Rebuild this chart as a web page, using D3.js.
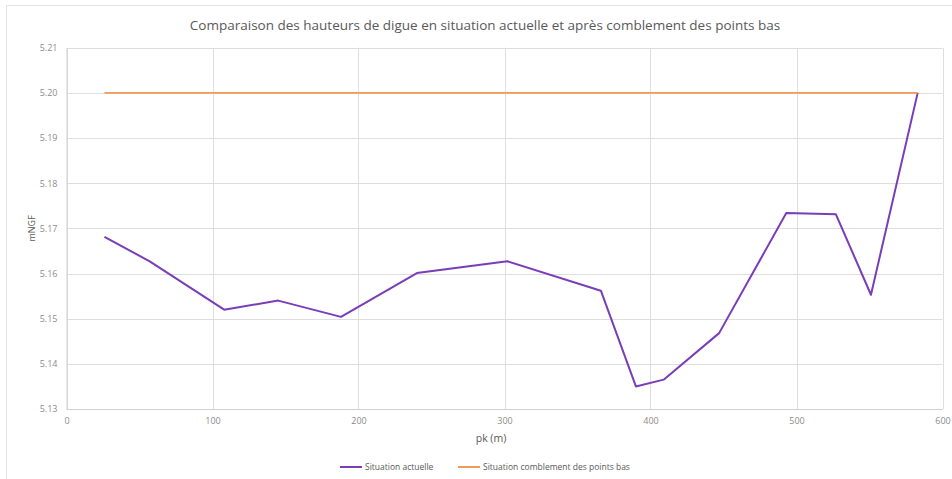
<!DOCTYPE html>
<html>
<head>
<meta charset="utf-8">
<script src="https://cdn.jsdelivr.net/npm/d3@7"></script>
<style>
  body { margin: 0; background: #fff; }
  text { font-family: "Open Sans", sans-serif; fill: #595959; }
</style>
</head>
<body>
<script>
(function (d3) {
	'use strict';

	var width = 952,
	    height = 479;

	// pk (m) and heights (mNGF)
	var pkActuel = [26, 57, 108, 145, 188, 240, 302, 366, 390, 409, 447, 493, 527, 551, 583];
	var hActuel = [5.1681, 5.1627, 5.1520, 5.1540, 5.1504, 5.1601, 5.1627, 5.1562, 5.1350, 5.1365, 5.1468, 5.1734, 5.1731, 5.1553, 5.2000];
	var pkComble = [26, 583];
	var hComble = [5.200, 5.200];
	var xTicks = [0, 100, 200, 300, 400, 500, 600];
	var yTicks = [5.13, 5.14, 5.15, 5.16, 5.17, 5.18, 5.19, 5.20, 5.21];
	var seriesNames = ['Situation actuelle', 'Situation comblement des points bas'];
	var colors = ['#7a3db8', '#f0995a'];

	var margin = {top: 47.7, right: 9.5, bottom: 70, left: 66.5};

	var svg = d3.select('body')
			.append('svg')
			.attr('width', width)
			.attr('height', height);

	// frame
	svg.append('rect')
		.attr('x', 6.5).attr('y', 5.5)
		.attr('width', width - 4).attr('height', height - 2)
		.style('fill', 'none')
		.style('stroke', '#e3e3e3');

	var x = d3.scaleLinear()
		.domain([0, 600])
		.range([margin.left, width - margin.right]);

	var y = d3.scaleLinear()
		.domain([5.13, 5.21])
		.range([409, margin.top]);

	// grid
	svg.append('g')
		.selectAll('line.h')
		.data(yTicks)
		.enter()
		.append('line')
			.attr('x1', x(0)).attr('x2', x(600))
			.attr('y1', function (d) { return Math.round(y(d)) + 0.5; })
			.attr('y2', function (d) { return Math.round(y(d)) + 0.5; })
			.style('stroke', '#dedede');

	svg.append('g')
		.selectAll('line.v')
		.data(xTicks)
		.enter()
		.append('line')
			.attr('y1', y(5.13)).attr('y2', y(5.21))
			.attr('x1', function (d) { return Math.round(x(d)) + 0.5; })
			.attr('x2', function (d) { return Math.round(x(d)) + 0.5; })
			.style('stroke', '#dedede');

	// axes
	var xAxis = d3.axisBottom(x).tickValues(xTicks).tickSize(0).tickPadding(9);
	var yAxis = d3.axisLeft(y).tickValues(yTicks).tickSize(0).tickPadding(9)
		.tickFormat(d3.format('.2f'));

	var gx = svg.append('g')
		.attr('transform', 'translate(0,' + y(5.13) + ')')
		.call(xAxis);
	var gy = svg.append('g')
		.attr('transform', 'translate(' + x(0) + ',0)')
		.call(yAxis);

	[gx, gy].forEach(function (g) {
		g.select('.domain').style('stroke', '#d0d0d0');
		g.selectAll('text')
			.style('font-size', '9px')
			.style('fill', '#8c8c8c')
			.style('font-family', '"Open Sans", sans-serif');
	});

	// series
	var line = d3.line()
		.x(function (d) { return x(d[0]); })
		.y(function (d) { return y(d[1]); });

	var series = [
		d3.zip(pkActuel, hActuel),
		d3.zip(pkComble, hComble)
	];

	svg.selectAll('path.serie')
		.data(series)
		.enter()
		.append('path')
			.attr('class', 'serie')
			.attr('d', line)
			.style('fill', 'none')
			.style('stroke', function (d, i) { return colors[i]; })
			.style('stroke-width', function (d, i) { return i === 0 ? 2 : 1.6; })
			.style('stroke-linejoin', 'round');

	// title
	svg.append('text')
		.attr('x', 485)
		.attr('y', 30)
		.attr('text-anchor', 'middle')
		.style('font-size', '13.5px')
		.text('Comparaison des hauteurs de digue en situation actuelle et après comblement des points bas');

	// axis titles
	svg.append('text')
		.attr('transform', 'translate(35,' + y(5.17) + ') rotate(-90)')
		.attr('text-anchor', 'middle')
		.style('font-size', '9px')
		.text('mNGF');

	svg.append('text')
		.attr('x', 491)
		.attr('y', 442)
		.attr('text-anchor', 'middle')
		.style('font-size', '10.5px')
		.text('pk (m)');

	// legend
	var legendX = [340, 458];
	var leg = svg.selectAll('g.leg')
		.data(seriesNames)
		.enter()
		.append('g')
			.attr('class', 'leg')
			.attr('transform', function (d, i) { return 'translate(' + legendX[i] + ',467)'; });

	leg.append('line')
		.attr('x1', 0).attr('x2', 22)
		.style('stroke', function (d, i) { return colors[i]; })
		.style('stroke-width', 2);

	leg.append('text')
		.attr('x', 25)
		.attr('y', 3)
		.style('font-size', '8.5px')
		.text(function (d) { return d; });

})(d3);
</script>
</body>
</html>
